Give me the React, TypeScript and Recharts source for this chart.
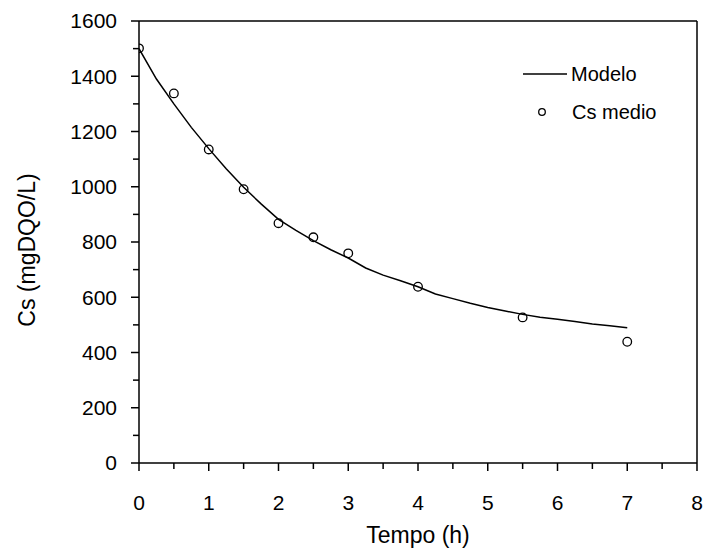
import { ComposedChart, Line, Scatter, XAxis, YAxis, ReferenceLine, Legend } from 'recharts';

const tempoMedido = [0, 0.5, 1, 1.5, 2, 2.5, 3, 4, 5.5, 7];
const csMedio = [1501, 1338, 1135, 991, 868, 817, 759, 638, 527, 439];

const tempoModelo = [
  0, 0.25, 0.5, 0.75, 1, 1.25, 1.5, 1.75, 2, 2.25, 2.5, 2.75, 3, 3.25, 3.5,
  3.75, 4, 4.25, 4.5, 4.75, 5, 5.25, 5.5, 5.75, 6, 6.25, 6.5, 6.75, 7,
];
const csModelo = [
  1500, 1390, 1300, 1215, 1138, 1065, 998, 938, 882, 842, 805, 772, 742, 706, 680,
  660, 638, 612, 595, 578, 563, 550, 538, 528, 520, 512, 503, 497, 490,
];

const xTicks = [0, 0.5, 1, 1.5, 2, 2.5, 3, 3.5, 4, 4.5, 5, 5.5, 6, 6.5, 7, 7.5, 8];
const yTicks = [0, 100, 200, 300, 400, 500, 600, 700, 800, 900, 1000, 1100, 1200, 1300, 1400, 1500, 1600];

const medido = tempoMedido.map((t, i) => ({ t, cs: csMedio[i] }));
const modelo = tempoModelo.map((t, i) => ({ t, cs: csModelo[i] }));

const FONT = '"Liberation Sans", Arial, sans-serif';

const XTick = (props: any) => {
  const { x, y, payload } = props;
  const axisY = y - 8 - 24;
  const major = Number.isInteger(payload.value);
  return (
    <g>
      <line x1={x} x2={x} y1={axisY} y2={axisY + (major ? 8 : 6)} stroke="#000" strokeWidth={1.5} />
      {major && (
        <text x={x} y={y} dy="0.71em" textAnchor="middle" fontSize={21} fontFamily={FONT} fill="#000">
          {payload.value}
        </text>
      )}
    </g>
  );
};

const YTick = (props: any) => {
  const { x, y, payload } = props;
  const axisX = x + 8 + 14;
  const major = payload.value % 200 === 0;
  return (
    <g>
      <line x1={axisX} x2={axisX - (major ? 8 : 6)} y1={y} y2={y} stroke="#000" strokeWidth={1.5} />
      {major && (
        <text x={x} y={y} dy="0.35em" textAnchor="end" fontSize={21} fontFamily={FONT} fill="#000">
          {payload.value}
        </text>
      )}
    </g>
  );
};

const YTitle = (props: any) => {
  const vb = props.viewBox;
  const cx = vb.x + 27;
  const cy = vb.y + vb.height / 2 + 8;
  return (
    <text x={cx} y={cy} transform={`rotate(-90, ${cx}, ${cy})`} textAnchor="middle" dy="0.35em"
      fontSize={23} fontFamily={FONT} fill="#000">
      Cs (mgDQO/L)
    </text>
  );
};

const XTitle = (props: any) => {
  const vb = props.viewBox;
  return (
    <text x={vb.x + vb.width / 2} y={vb.y + vb.height - 13} textAnchor="middle"
      fontSize={23} fontFamily={FONT} fill="#000">
      Tempo (h)
    </text>
  );
};

const Marker = (props: any) => (
  <circle cx={props.cx} cy={props.cy} r={4.3} fill="none" stroke="#000" strokeWidth={1.3} />
);

const LegendBox = () => (
  <svg width={170} height={76}>
    <line x1={3} x2={47} y1={19} y2={19} stroke="#000" strokeWidth={1.5} />
    <text x={51} y={19} dy="0.35em" fontSize={20} fontFamily={FONT} fill="#000">Modelo</text>
    <circle cx={22} cy={57} r={3.3} fill="none" stroke="#000" strokeWidth={1.3} />
    <text x={52} y={57} dy="0.35em" fontSize={20} fontFamily={FONT} fill="#000">Cs medio</text>
  </svg>
);

export default function App() {
  return (
    <div style={{ position: 'absolute', left: 0, top: 0, background: '#fff' }}>
      <ComposedChart width={707} height={556} margin={{ top: 21, right: 10, bottom: 0, left: 0 }}>
        <XAxis
          type="number"
          dataKey="t"
          domain={[0, 8]}
          ticks={xTicks}
          interval={0}
          height={93}
          tickSize={8}
          tickMargin={24}
          tickLine={false}
          tick={<XTick />}
          axisLine={{ stroke: '#000', strokeWidth: 1.5 }}
          allowDataOverflow
          label={<XTitle />}
        />
        <YAxis
          type="number"
          dataKey="cs"
          domain={[0, 1600]}
          ticks={yTicks}
          interval={0}
          width={139}
          tickSize={8}
          tickMargin={14}
          tickLine={false}
          tick={<YTick />}
          axisLine={{ stroke: '#000', strokeWidth: 1.5 }}
          allowDataOverflow
          label={<YTitle />}
        />
        <ReferenceLine y={1600} stroke="#000" strokeWidth={1.5} />
        <ReferenceLine x={8} stroke="#000" strokeWidth={1.5} />
        <Line
          data={modelo}
          dataKey="cs"
          name="Modelo"
          type="linear"
          stroke="#000"
          strokeWidth={1.5}
          dot={false}
          isAnimationActive={false}
        />
        <Scatter
          data={medido}
          dataKey="cs"
          name="Cs medio"
          shape={<Marker />}
          isAnimationActive={false}
        />
        <Legend
          layout="horizontal"
          verticalAlign="middle"
          align="center"
          content={<LegendBox />}
          wrapperStyle={{ position: 'absolute', left: 520, top: 55, width: 170, height: 76 }}
        />
      </ComposedChart>
    </div>
  );
}
